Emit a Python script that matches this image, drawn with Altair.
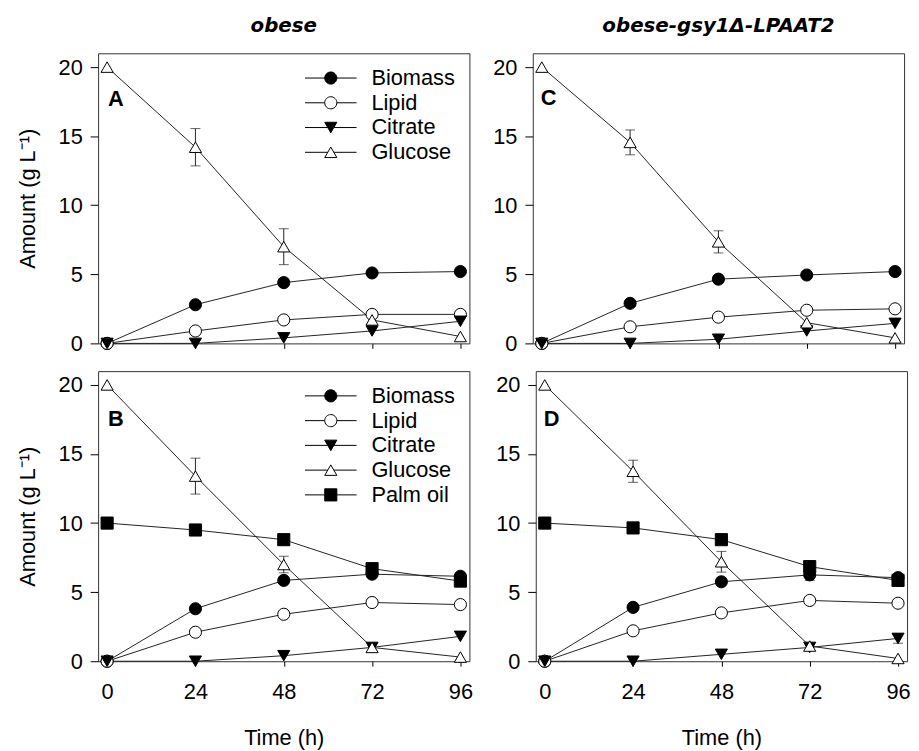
import altair as alt
import pandas as pd

FONT = "Liberation Sans"
times = [0, 24, 48, 72, 96]
series_all = ["Biomass", "Lipid", "Citrate", "Glucose", "Palm oil"]

# Panel A: obese
a_biomass = [0, 2.8, 4.4, 5.1, 5.2]
a_lipid = [0, 0.9, 1.7, 2.1, 2.1]
a_citrate = [0, 0, 0.4, 0.9, 1.6]
a_glucose = [20, 14.2, 7.0, 1.7, 0.5]
a_glucose_err = [0, 1.35, 1.3, 0, 0]

# Panel C: obese-gsy1Δ-LPAAT2
c_biomass = [0, 2.9, 4.65, 4.95, 5.2]
c_lipid = [0, 1.2, 1.9, 2.4, 2.5]
c_citrate = [0, 0, 0.3, 0.9, 1.45]
c_glucose = [20, 14.55, 7.35, 1.5, 0.4]
c_glucose_err = [0, 0.9, 0.8, 0, 0]

# Panel B: obese + palm oil
b_biomass = [0, 3.8, 5.85, 6.3, 6.15]
b_lipid = [0, 2.1, 3.4, 4.25, 4.1]
b_citrate = [0, 0, 0.4, 1.0, 1.8]
b_glucose = [20, 13.4, 7.0, 1.0, 0.3]
b_glucose_err = [0, 1.3, 0.6, 0, 0]
b_palm = [10, 9.5, 8.8, 6.7, 5.8]

# Panel D: obese-gsy1Δ-LPAAT2 + palm oil
d_biomass = [0, 3.9, 5.75, 6.25, 6.05]
d_biomass_err = [0, 0, 0, 0.4, 0]
d_lipid = [0, 2.2, 3.5, 4.4, 4.2]
d_citrate = [0, 0, 0.5, 1.0, 1.65]
d_citrate_err = [0, 0, 0, 0, 0.35]
d_glucose = [20, 13.75, 7.2, 1.1, 0.2]
d_glucose_err = [0, 0.8, 0.75, 0, 0]
d_palm = [10, 9.65, 8.8, 6.85, 5.85]

panels = {
    "A": {"Biomass": a_biomass, "Lipid": a_lipid, "Citrate": a_citrate, "Glucose": a_glucose},
    "B": {"Biomass": b_biomass, "Lipid": b_lipid, "Citrate": b_citrate, "Glucose": b_glucose,
          "Palm oil": b_palm},
    "C": {"Biomass": c_biomass, "Lipid": c_lipid, "Citrate": c_citrate, "Glucose": c_glucose},
    "D": {"Biomass": d_biomass, "Lipid": d_lipid, "Citrate": d_citrate, "Glucose": d_glucose,
          "Palm oil": d_palm},
}
errors = {
    "A": {"Glucose": a_glucose_err},
    "B": {"Glucose": b_glucose_err},
    "C": {"Glucose": c_glucose_err},
    "D": {"Glucose": d_glucose_err, "Biomass": d_biomass_err, "Citrate": d_citrate_err},
}

shapes = ["circle", "circle", "triangle-down", "triangle-up", "square"]
fills = ["black", "white", "black", "white", "black"]

L = 4.25
legend_paths = [
    f"M-{L},0L-1,0M1,0L{L},0M-1,0A1,1,0,1,0,1,0A1,1,0,1,0,-1,0Z",
    f"M-{L},0L-1,0M1,0L{L},0M-1,0A1,1,0,1,0,1,0A1,1,0,1,0,-1,0Z",
    f"M-{L},0L-0.5,0M0.5,0L{L},0M0,0.866L-1,-0.866L1,-0.866Z",
    f"M-{L},0L-0.5,0M0.5,0L{L},0M0,-0.866L-1,0.866L1,0.866Z",
    f"M-{L},0L-1,0M1,0L{L},0M-1,-1L1,-1L1,1L-1,1Z",
]

W, H = 375, 293
XDOM = [-2.45, 98.45]
YDOM = [0, 21]
LINE = "#222"
FS = 22


def panel(key, title_text=None, bottom=False, left=False, legend=False, letter_x=10, letter_y=46):
    data = panels[key]
    names = [s for s in series_all if s in data]
    rows = []
    for s in names:
        for t, v in zip(times, data[s]):
            rows.append({"series": s, "time": t, "value": v})
    df = pd.DataFrame(rows)
    erows = []
    for s, errs in errors[key].items():
        for t, v, e in zip(times, data[s], errs):
            if e > 0:
                erows.append({"series": s, "time": t, "lo": v - e, "hi": v + e})
    edf = pd.DataFrame(erows)

    xaxis = alt.Axis(values=times, labels=bottom, title="Time (h)" if bottom else None,
                     ticks=True, tickSize=5, tickColor="black", domain=False, grid=False,
                     labelFontSize=FS, labelFont=FONT, labelColor="black", labelPadding=16,
                     titleFontSize=FS, titleFont=FONT, titleFontWeight="normal",
                     titleColor="black", titlePadding=25)
    yaxis = alt.Axis(values=[0, 5, 10, 15, 20], title="Amount (g L⁻¹)" if left else None,
                     ticks=True, tickSize=8, tickColor="black", domain=False, grid=False,
                     labelFontSize=FS, labelFont=FONT, labelColor="black", labelPadding=8,
                     titleFontSize=FS, titleFont=FONT, titleFontWeight="normal",
                     titleColor="black", titlePadding=19)
    xs = alt.Scale(domain=XDOM, nice=False, zero=False)
    ys = alt.Scale(domain=YDOM, nice=False)

    def X(f):
        return alt.X(f"{f}:Q", scale=xs, axis=xaxis)

    def Y(f):
        return alt.Y(f"{f}:Q", scale=ys, axis=yaxis)

    lines = alt.Chart(df).mark_line(color=LINE, strokeWidth=1).encode(
        x=X("time"), y=Y("value"), detail="series:N")
    rule = alt.Chart(edf).mark_rule(color=LINE, strokeWidth=1).encode(
        x=X("time"), y=Y("lo"), y2="hi:Q")
    cap_lo = alt.Chart(edf).mark_tick(orient="horizontal", size=10, thickness=1, color=LINE).encode(
        x=X("time"), y=Y("lo"))
    cap_hi = alt.Chart(edf).mark_tick(orient="horizontal", size=10, thickness=1, color=LINE).encode(
        x=X("time"), y=Y("hi"))
    pts = alt.Chart(df).mark_point(filled=True, size=150, stroke="black", strokeWidth=1,
                                   opacity=1).encode(
        x=X("time"), y=Y("value"),
        shape=alt.Shape("series:N", scale=alt.Scale(domain=series_all, range=shapes), legend=None),
        fill=alt.Fill("series:N", scale=alt.Scale(domain=series_all, range=fills), legend=None),
    )
    letter = alt.Chart(pd.DataFrame({"label": [key]})).mark_text(
        font=FONT, fontSize=FS, fontWeight="bold", align="left", baseline="middle",
        color="black").encode(x=alt.value(letter_x), y=alt.value(letter_y), text="label:N")
    layers = [lines, rule, cap_lo, cap_hi, pts, letter]
    if legend:
        lg = alt.Legend(title=None, orient="none", legendX=224, legendY=14, padding=0,
                        symbolSize=150, symbolStrokeWidth=1, symbolOpacity=1,
                        labelFontSize=FS, labelFont=FONT, labelColor="black",
                        labelOffset=30, rowPadding=3)
        lfills = [fills[series_all.index(s)] for s in names]
        lpaths = [legend_paths[series_all.index(s)] for s in names]
        leg = alt.Chart(df).transform_filter("false").mark_point(
            filled=True, size=150, strokeWidth=1, opacity=1).encode(
            shape=alt.Shape("series:N", scale=alt.Scale(domain=names, range=lpaths), legend=lg),
            fill=alt.Fill("series:N", scale=alt.Scale(domain=names, range=lfills), legend=lg),
            stroke=alt.Stroke("series:N", scale=alt.Scale(domain=names, range=["black"] * len(names)),
                              legend=lg),
        )
        layers.append(leg)
    ch = alt.layer(*layers).properties(width=W, height=H)
    if legend:
        ch = ch.resolve_scale(shape="independent", fill="independent", stroke="independent")
    if title_text:
        ch = ch.properties(title=title_text)
    return ch


A = panel("A", title_text="obese", left=True, legend=True, letter_x=10, letter_y=46)
C = panel("C", title_text="obese-gsy1Δ-LPAAT2", letter_x=8, letter_y=45)
B = panel("B", bottom=True, left=True, legend=True, letter_x=10, letter_y=48)
D = panel("D", bottom=True, letter_x=8, letter_y=48)

res = dict(shape="independent", fill="independent", stroke="independent")
row1 = alt.hconcat(A, C, spacing=22).resolve_scale(**res)
row2 = alt.hconcat(B, D, spacing=22).resolve_scale(**res)
chart = alt.vconcat(row1, row2, spacing=15).resolve_scale(**res).configure_view(
    stroke="#333", strokeWidth=1
).configure_title(
    font="DejaVu Sans", fontSize=20, fontStyle="italic", fontWeight="bold",
    anchor="middle", offset=18, color="black"
).properties(padding={"left": 8, "top": 3, "right": 0, "bottom": 5})

chart.save("out.html", embed_options={"renderer": "svg", "actions": False})
